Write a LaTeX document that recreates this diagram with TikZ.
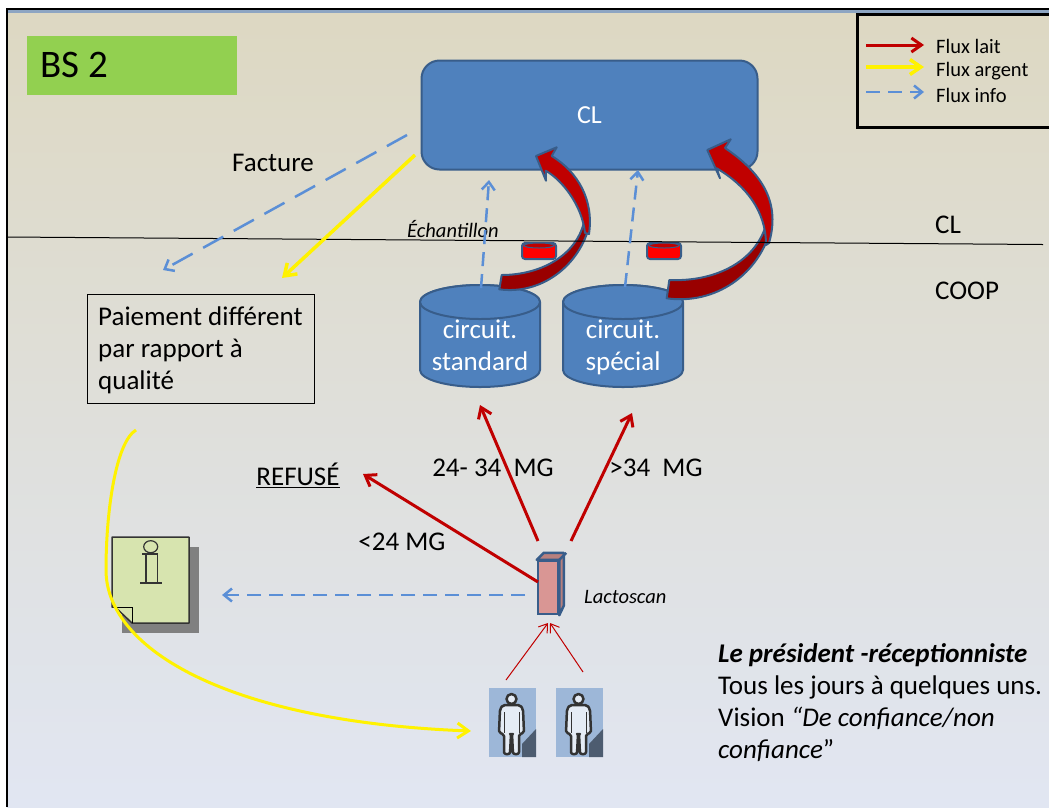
\documentclass[tikz,border=0pt]{standalone}
\usepackage{fontspec}
\setmainfont{Carlito}
\usepackage{tikz}
\usetikzlibrary{arrows.meta, positioning}
\definecolor{boxblue}{HTML}{4F81BD}
\definecolor{edgeblue}{HTML}{385D8A}
\definecolor{infoblue}{HTML}{5B8FD6}
\definecolor{laitred}{HTML}{C00000}
\definecolor{laitdark}{HTML}{990000}
\definecolor{fondhaut}{HTML}{DDD8C2}
\definecolor{fondmilieu}{HTML}{DEDCCB}
\definecolor{fondbas}{HTML}{E1E6F2}
\definecolor{rose}{HTML}{D99694}
\definecolor{feuille}{HTML}{D7E4AF}
\definecolor{peau}{HTML}{9DB7D8}
\definecolor{ombre}{HTML}{4D5C70}
\tikzset{
	lait/.style={draw=laitred, line width=3pt, -{Straight Barb[length=10pt,width=14pt]}},
	argent/.style={draw=yellow, line width=3.5pt, -{Straight Barb[length=11pt,width=15pt]}},
	info/.style={draw=infoblue, line width=2.5pt, dash pattern=on 14pt off 8pt, -{Straight Barb[length=8pt,width=13pt]}},
	cuve/.style={draw=edgeblue, line width=2pt, fill=boxblue, line join=round},
	cuvetxt/.style={inner sep=0pt, text=white, align=center, font=\fontsize{27}{32}\selectfont},
	disque/.style={draw=edgeblue, line width=2pt, fill=red, rounded corners=3pt, minimum width=34pt, minimum height=16pt, inner sep=0pt},
	bloc/.style={draw=edgeblue, line width=2pt, fill=laitred, line join=round},
	blocbas/.style={draw=edgeblue, line width=2pt, fill=laitdark, line join=round},
	txt/.style={inner sep=0pt, font=\fontsize{27}{32}\selectfont, align=left},
	petit/.style={inner sep=0pt, font=\fontsize{20.5}{24}\selectfont\itshape},
	legende/.style={inner sep=0pt, anchor=west, font=\fontsize{20.5}{24}\selectfont},
	fin/.style={draw=laitred, line width=1pt, -{Straight Barb[length=8pt,width=11pt]}},
	corps/.style={draw=black!80, line width=2.5pt, fill=white!85!boxblue, line join=round}
}
\begin{document}
\begin{tikzpicture}[x=1pt,y=-1pt]
	\useasboundingbox (0,0) rectangle (1049,807);
	\shade[top color=fondhaut, middle color=fondmilieu, bottom color=fondbas] (7,10) rectangle (1049,807);
	\fill[peau!90!black] (7,10) rectangle (1049,13);
	\draw[line width=2pt] (6.5,807) -- (6.5,9) -- (1049,9);

	% titre et legende
	\node[fill={rgb,255:red,146;green,208;blue,80}, minimum width=210pt, minimum height=59pt, inner sep=0pt] (titre) at (132,65.5) {};
	\node[inner sep=0pt, anchor=west, font=\fontsize{39}{44}\selectfont] (bs) at (40,65) {BS 2};
	\draw[line width=3pt] (1052,14) -- (857.5,14) -- (857.5,127) -- (1052,127);
	\coordinate (l1) at (866,45); \coordinate (l1e) at (924,45);
	\coordinate (l2) at (866,67); \coordinate (l2e) at (924,67);
	\coordinate (l3) at (866,92); \coordinate (l3e) at (924,92);
	\draw[lait] (l1) -- (l1e);
	\draw[argent] (l2) -- (l2e);
	\draw[info] (l3) -- (l3e);
	\node[legende] (fl) at (936,46) {Flux lait};
	\node[legende] (fa) at (936,71) {Flux argent};
	\node[legende] (fi) at (936,95) {Flux info};

	% boites
	\node[draw=edgeblue, line width=2pt, fill=boxblue, rounded corners=18pt, minimum width=336pt, minimum height=109pt, text=white, font=\fontsize{26}{30}\selectfont] (cl) at (589.5,115) {CL};
	\foreach \x in {480,623}
		{
		\draw[cuve] (\x-60,302) -- (\x-60,370) arc (180:360:60pt and 17pt) -- (\x+60,302) arc (0:180:60pt and 17pt) -- cycle;
		\draw[cuve] (\x,302) ellipse (60 and 17);
		}
	\node[cuvetxt] (stdt) at (480,350) {circuit.\\standard\strut};
	\node[cuvetxt] (spet) at (623,350) {circuit.\\spécial\strut};
	\foreach \n/\x in {disca/539,discb/664}
		{
		\node[disque] (\n) at (\x,251) {};
		\fill[laitred, draw=edgeblue, line width=1pt] (\n.north) ++(0,3.5) ellipse (15 and 2.5);
		}

	% fleches courbes
	\draw[blocbas] (499.3,289.3) .. controls (540,295) and (580,267) .. (590,223) -- (584,222) .. controls (576,256) and (540,275) .. (501.7,275) -- cycle;
	\draw[bloc] (589,234) .. controls (594,200) and (578,172) .. (551.7,156) -- (556.7,147.3) -- (536,156) -- (546,180.7) -- (545.7,170.7) .. controls (562,180) and (582,205) .. (585,233) -- cycle;
	\draw[blocbas] (666.7,298.3) .. controls (715,305) and (760,275) .. (772,225) -- (766,225) .. controls (755,262) and (715,282) .. (669.3,280) -- cycle;
	\draw[bloc] (769,243) .. controls (780,205) and (765,175) .. (725,148) -- (730.7,139.3) -- (707.3,150) -- (720,178.3) -- (716.7,168.3) .. controls (745,185) and (766,210) .. (766,245) -- cycle;

	% frontiere
	\coordinate (fg) at (7,237); \coordinate (fd) at (1043,244.5);
	\draw[line width=1pt] (fg) -- (fd);
	\node[txt] (cl2) at (948,225) {CL};
	\node[txt] (coop) at (967,291) {COOP};
	\node[petit] (ech) at (453,229) {Échantillon};

	% controle et paiement
	\node[draw, line width=1pt, minimum width=227pt, minimum height=109pt] (paie) at (200.5,348.5) {};
	\node[txt, anchor=west] (paiet) at (98,350) {Paiement différent\\par rapport à\\qualité};
	\coordinate (fa1) at (407,135); \coordinate (fa2) at (163,270);
	\coordinate (ar1) at (415,155); \coordinate (ar2) at (282,278);
	\draw[info, dash pattern=on 23pt off 12pt] (fa1) -- (fa2);
	\draw[argent] (ar1) -- (ar2);
	\node[txt] (fact) at (273,163) {Facture};
	\coordinate (ech1) at (481,288); \coordinate (ech2) at (489,180);
	\coordinate (ech3) at (625,287); \coordinate (ech4) at (638,170);
	\draw[info] (ech1) -- (ech2);
	\draw[info] (ech3) -- (ech4);

	% lactoscan
	\node[draw=edgeblue, line width=2.5pt, fill=rose, minimum width=20pt, minimum height=53pt, inner sep=0pt] (lacto) at (548,587.5) {};
	\fill[fill=rose!85!black, draw=edgeblue, line width=2.5pt, line join=round] (lacto.north west) -- ++(7,-7) -- ++(20,0) -- ++(0,53) -- (lacto.south east) -- (lacto.north east) -- cycle;
	\draw[edgeblue, line width=2.5pt] (lacto.north east) -- ++(7,-7);
	\node[petit, anchor=west] (lactot) at (584,597) {Lactoscan};
	\coordinate (d1) at (538,582); \coordinate (d2) at (538,541); \coordinate (d3) at (571,541);
	\coordinate (a1) at (363,474); \coordinate (a2) at (480,405); \coordinate (a3) at (632,413);
	\draw[lait] (d1) -- (a1);
	\draw[lait] (d2) -- (a2);
	\draw[lait] (d3) -- (a3);
	\node[txt] (ref) at (298,475) {\underline{REFUSÉ}};
	\node[txt] (mg1) at (402,542) {<24 MG};
	\node[txt] (mg2) at (493,468) {24- 34\ \ MG};
	\node[txt] (mg3) at (656,468) {>34\ \ MG};

	% fiche
	\fill[black!50] (122,547) rectangle (199,633);
	\draw[black!80, line width=1.5pt, fill=feuille, line join=round] (112,537) -- (189,537) -- (189,623) -- (132,623) -- (115,607) -- (112,607) -- cycle;
	\draw[line width=1pt] (132,623) -- (132,607) -- (115,607);
	\draw[black!80, line width=1.2pt] (150.7,546.7) ellipse (7 and 6);
	\draw[black!80, line width=1.2pt] (142,554) -- (157.3,554) -- (157.3,583) -- (146,583) -- (146,554);
	\draw[black!80, line width=2pt] (140,583) -- (162,583);
	\coordinate (jd) at (136,430); \coordinate (ja) at (471,731);
	\draw[argent, line width=3pt] (jd) .. controls (116,442) and (106,510) .. (106,570) .. controls (106,650) and (230,722) .. (ja);
	\coordinate (inf) at (525,595); \coordinate (infa) at (222,595);
	\draw[info] (inf) -- (infa);

	% producteurs
	\foreach \n/\x in {proda/489,prodb/556}
		{
		\node[anchor=north west, fill=peau, minimum width=47pt, minimum height=69pt, inner sep=0pt] (\n) at (\x,688) {};
		\begin{scope}[shift={(\x,688)}]
			\fill[ombre] (47,41) -- (47,69) -- (33,69) -- (33,56) -- cycle;
			\draw[corps, rounded corners=2pt] (14,17) -- (31,17) -- (34,21) -- (35,45) -- (30,46) -- (30,66) -- (24,66) -- (23,46) -- (22,46) -- (21,66) -- (15,66) -- (15,46) -- (10,45) -- (11,21) -- cycle;
			\draw[black!80, line width=1pt] (15,24) -- (15,45) (30,24) -- (30,45);
			\draw[corps] (22.5,11) circle (5);
		\end{scope}
		}
	\coordinate (pa) at (506,680); \coordinate (pb) at (583,672);
	\coordinate (la) at (548,623); \coordinate (lb) at (550,623);
	\draw[fin] (pa) -- (la);
	\draw[fin] (pb) -- (lb);

	% texte
	\node[txt, anchor=north west] (pres) at (718,643) {\textbf{\textit{Le président -réceptionniste}}\\Tous les jours à quelques uns.\\Vision \textit{“De confiance/non}\\\textit{confiance}”};
\end{tikzpicture}
\end{document}
